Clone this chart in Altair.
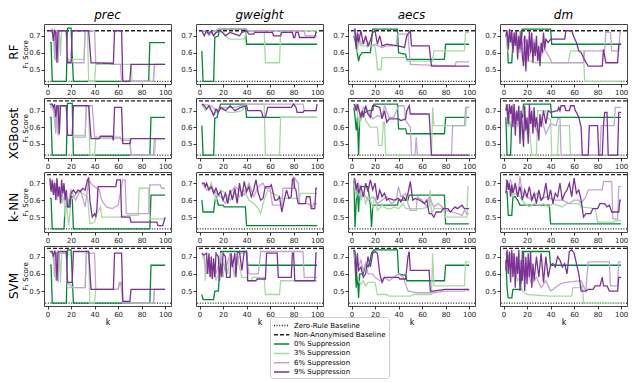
import altair as alt
import pandas as pd

ROWS = ["RF", "XGBoost", "k-NN", "SVM"]
COLS = ["prec", "gweight", "aecs", "dm"]
SERIES = ["Zero-Rule Baseline", "Non-Anonymised Baseline", "0% Suppression",
          "3% Suppression", "6% Suppression", "9% Suppression"]
COLORS = ["#222222", "#222222", "#008837", "#a6dba0", "#c2a5cf", "#7b3294"]
ZERO_RULE = [0.43, 0.43, 0.43, 0.43]
NON_ANON = [0.73, 0.76, 0.75, 0.748]
Y_DOMAINS = [[0.414, 0.77], [0.413, 0.777], [0.412, 0.766], [0.413, 0.762]]
X_TICKS = [0, 20, 40, 60, 80, 100]
Y_TICKS = [0.5, 0.6, 0.7]

# ---------------- RF ----------------
RF_PREC_0 = [(2,.66),(3,.66),(4,.43),(16,.43),(17,.745),(20,.745),(22,.43),(86,.43),(87,.66),(100,.66)]
RF_PREC_3 = [(2,.73),(4,.74),(5,.66),(6,.73),(7,.55),(8,.73),(10,.73),(11,.58),(12,.73),(16,.73),(17,.57),(19,.55),(21,.56),(31,.56),(32,.73),(34,.73),(35,.43),(40,.43),(41,.53),(71,.53),(72,.43),(90,.43),(91,.53),(100,.53)]
RF_PREC_6 = [(2,.73),(4,.72),(5,.73),(6,.56),(7,.73),(8,.73),(9,.54),(10,.73),(16,.73),(17,.55),(20,.54),(21,.55),(22,.54),(31,.54),(32,.73),(40,.73),(41,.54),(55,.54),(56,.53),(62,.53),(63,.43),(90,.43),(91,.53),(100,.53)]
RF_PREC_9 = [(2,.73),(4,.73),(5,.67),(6,.73),(7,.72),(8,.54),(9,.73),(16,.73),(17,.54),(20,.54),(21,.73),(35,.73),(37,.54),(56,.535),(57,.73),(63,.73),(64,.43),(70,.43),(71,.53),(100,.53)]

RF_GW_0 = [(2,.61),(3,.43),(12,.43),(13,.69),(16,.70),(17,.74),(39,.74),(40,.65),(100,.65)]
RF_GW_3 = [(2,.72),(5,.73),(8,.70),(12,.73),(20,.72),(25,.68),(38,.68),(40,.73),(55,.73),(56,.54),(68,.54),(69,.73),(100,.73)]
RF_GW_6 = [(2,.73),(10,.72),(12,.70),(15,.74),(40,.74),(41,.73),(89,.73),(90,.70),(100,.70)]
RF_GW_9 = [(2,.73),(4,.70),(6,.73),(8,.71),(10,.73),(12,.70),(14,.72),(18,.73),(22,.70),(26,.72),(30,.71),(34,.70),(36,.72),(40,.73),(42,.71),(46,.71),(47,.72),(62,.72),(63,.70),(69,.70),(70,.72),(79,.72),(80,.69),(81,.69),(82,.72),(84,.72),(85,.69),(98,.69),(99,.72),(100,.72)]

RF_AE_0 = [(2,.70),(4,.64),(6,.55),(7,.58),(9,.60),(16,.60),(17,.66),(18,.74),(39,.74),(40,.60),(46,.59),(47,.56),(79,.56),(80,.65),(100,.65)]
RF_AE_3 = [(2,.72),(4,.70),(5,.60),(6,.66),(8,.64),(20,.64),(21,.58),(22,.50),(25,.50),(26,.57),(46,.57),(47,.55),(69,.55),(70,.61),(96,.61),(97,.72),(100,.72)]
RF_AE_6 = [(2,.73),(4,.66),(6,.71),(8,.65),(12,.68),(16,.64),(20,.65),(26,.63),(30,.64),(38,.64),(39,.71),(48,.71),(50,.53),(70,.525),(88,.52),(89,.545),(100,.545)]
RF_AE_9 = [(2,.74),(3,.74),(4,.62),(5,.72),(6,.66),(8,.73),(10,.65),(12,.70),(14,.64),(16,.67),(18,.72),(20,.73),(22,.65),(24,.70),(26,.64),(30,.65),(40,.64),(45,.63),(47,.70),(50,.73),(51,.64),(66,.64),(68,.52),(100,.52)]

RF_DM_0 = [(2,.70),(3,.68),(4,.54),(7,.54),(8,.66),(15,.66),(16,.74),(40,.74),(41,.65),(100,.65)]
RF_DM_3 = [(2,.73),(4,.60),(6,.72),(8,.60),(10,.70),(12,.62),(14,.73),(16,.60),(18,.55),(24,.55),(25,.54),(55,.54),(57,.61),(68,.61),(69,.43),(100,.43)]
RF_DM_6 = [(2,.73),(4,.68),(6,.73),(8,.62),(10,.72),(14,.60),(18,.70),(22,.58),(26,.68),(30,.56),(35,.62),(40,.56),(41,.54),(68,.54),(69,.61),(86,.61),(87,.72),(91,.72),(92,.61),(98,.61),(99,.72),(100,.72)]
RF_DM_9 = [(2,.70),(3,.73),(4,.62),(5,.74),(6,.66),(7,.73),(8,.60),(9,.72),(10,.64),(11,.73),(12,.56),(13,.70),(14,.62),(15,.73),(16,.58),(17,.52),(18,.70),(19,.49),(20,.68),(21,.55),(22,.73),(23,.60),(24,.72),(25,.54),(26,.66),(27,.58),(28,.70),(29,.55),(30,.64),(31,.52),(32,.66),(33,.60),(34,.72),(35,.62),(36,.68),(38,.66),(40,.68),(52,.68),(53,.73),(58,.73),(60,.69),(62,.66),(64,.61),(66,.60),(68,.57),(72,.52),(84,.52),(85,.62),(86,.58),(87,.54),(97,.54),(98,.65),(100,.65)]

# ---------------- XGBoost ----------------
XG_PREC_0 = [(2,.66),(3,.66),(4,.43),(16,.43),(17,.745),(21,.745),(22,.43),(87,.43),(88,.66),(100,.66)]
XG_PREC_3 = [(2,.73),(5,.70),(6,.73),(7,.58),(8,.73),(10,.55),(11,.73),(16,.73),(17,.55),(21,.55),(32,.55),(33,.73),(35,.73),(36,.43),(40,.43),(41,.53),(70,.53),(71,.43),(91,.43),(92,.53),(100,.53)]
XG_PREC_6 = [(2,.74),(5,.72),(7,.56),(8,.73),(9,.55),(10,.73),(16,.73),(17,.55),(21,.55),(22,.54),(32,.54),(33,.73),(38,.73),(40,.54),(62,.54),(63,.52),(70,.52),(71,.43),(90,.43),(91,.53),(100,.53)]
XG_PREC_9 = [(2,.74),(4,.74),(5,.72),(6,.74),(7,.66),(8,.73),(9,.73),(10,.56),(11,.73),(16,.73),(17,.55),(21,.55),(22,.73),(35,.73),(37,.53),(44,.53),(45,.545),(55,.545),(56,.52),(57,.72),(63,.72),(64,.50),(70,.50),(71,.53),(100,.53)]

XG_GW_0 = [(2,.61),(3,.43),(12,.43),(13,.655),(15,.66),(16,.70),(18,.74),(39,.74),(40,.66),(100,.66)]
XG_GW_3 = [(2,.74),(5,.70),(8,.73),(12,.68),(16,.70),(20,.72),(24,.69),(30,.69),(36,.70),(40,.74),(55,.74),(56,.43),(68,.43),(69,.66),(100,.66)]
XG_GW_6 = [(2,.74),(10,.73),(14,.70),(18,.72),(30,.72),(40,.74),(88,.74),(89,.70),(100,.70)]
XG_GW_9 = [(2,.74),(4,.73),(6,.71),(8,.73),(10,.70),(12,.67),(14,.71),(16,.69),(18,.72),(22,.70),(26,.73),(30,.70),(35,.72),(40,.73),(41,.70),(52,.70),(53,.69),(54,.66),(56,.66),(58,.72),(78,.72),(79,.73),(80,.74),(82,.72),(83,.69),(88,.69),(89,.70),(99,.70),(100,.74)]

XG_AE_0 = [(2,.72),(3,.66),(4,.58),(5,.66),(6,.43),(7,.66),(10,.68),(14,.70),(18,.70),(19,.74),(39,.74),(40,.59),(46,.59),(47,.56),(79,.56),(80,.66),(100,.66)]
XG_AE_3 = [(2,.72),(4,.74),(5,.70),(6,.60),(7,.68),(10,.70),(12,.64),(16,.60),(22,.60),(23,.49),(26,.49),(27,.63),(28,.63),(29,.43),(68,.43),(69,.72),(70,.61),(97,.61),(98,.72),(100,.72)]
XG_AE_6 = [(2,.74),(4,.70),(6,.73),(8,.64),(10,.72),(14,.70),(18,.65),(22,.67),(26,.66),(28,.73),(32,.66),(36,.66),(40,.73),(44,.73),(45,.72),(46,.64),(50,.60),(51,.43),(54,.43),(55,.54),(56,.43),(85,.43),(86,.61),(96,.61),(97,.72),(100,.72)]
XG_AE_9 = [(2,.74),(3,.73),(4,.70),(5,.74),(6,.71),(8,.66),(9,.70),(10,.66),(12,.73),(14,.68),(16,.66),(17,.70),(18,.73),(20,.73),(24,.72),(26,.65),(28,.70),(30,.63),(32,.65),(40,.65),(42,.64),(46,.65),(47,.70),(49,.73),(50,.68),(66,.68),(68,.43),(100,.43)]

XG_DM_0 = [(2,.66),(3,.43),(6,.43),(7,.66),(16,.66),(17,.74),(40,.74),(41,.66),(100,.66)]
XG_DM_3 = [(2,.74),(4,.60),(6,.72),(8,.74),(10,.66),(12,.60),(14,.70),(16,.52),(18,.60),(20,.56),(22,.60),(24,.43),(28,.43),(29,.70),(36,.70),(37,.65),(40,.65),(41,.43),(46,.43),(47,.61),(56,.61),(57,.43),(100,.43)]
XG_DM_6 = [(2,.72),(6,.60),(8,.73),(12,.62),(16,.70),(20,.60),(24,.66),(28,.58),(32,.66),(36,.56),(40,.62),(45,.61),(46,.65),(48,.65),(49,.43),(82,.43),(83,.61),(94,.61),(95,.72),(100,.72)]
XG_DM_9 = [(2,.70),(3,.74),(4,.62),(5,.74),(6,.68),(7,.73),(8,.60),(9,.74),(10,.55),(11,.70),(12,.64),(13,.73),(14,.50),(15,.70),(16,.60),(17,.48),(18,.73),(19,.58),(20,.66),(21,.50),(22,.74),(23,.62),(24,.70),(25,.56),(26,.72),(27,.60),(28,.66),(30,.52),(31,.68),(32,.60),(34,.70),(36,.62),(38,.70),(40,.69),(46,.70),(47,.72),(48,.70),(49,.73),(52,.73),(53,.70),(56,.70),(57,.73),(60,.73),(61,.70),(62,.69),(64,.66),(66,.60),(67,.43),(72,.43),(73,.61),(80,.61),(81,.43),(84,.43),(85,.61),(86,.69),(88,.69),(89,.43),(97,.43),(98,.69),(100,.69)]

# ---------------- k-NN ----------------
KN_PREC_0 = [(2,.61),(3,.61),(4,.43),(14,.43),(15,.56),(18,.56),(19,.62),(21,.62),(22,.43),(87,.43),(88,.63),(100,.63)]
KN_PREC_3 = [(2,.70),(4,.65),(6,.70),(8,.60),(10,.68),(12,.58),(14,.62),(15,.50),(16,.58),(18,.45),(20,.60),(22,.62),(26,.65),(30,.64),(34,.62),(36,.46),(40,.47),(42,.52),(45,.56),(46,.50),(60,.50),(70,.51),(77,.51),(78,.67),(86,.67),(87,.49),(100,.49)]
KN_PREC_6 = [(2,.72),(4,.66),(6,.71),(8,.62),(10,.68),(12,.60),(14,.69),(16,.57),(18,.60),(20,.66),(24,.60),(28,.66),(32,.56),(35,.72),(38,.69),(44,.66),(46,.60),(50,.56),(55,.55),(60,.57),(64,.72),(66,.72),(67,.52),(70,.52),(86,.52),(87,.69),(96,.69),(97,.67),(100,.67)]
KN_PREC_9 = [(2,.73),(3,.65),(4,.72),(5,.63),(6,.70),(7,.60),(8,.73),(9,.62),(10,.68),(11,.58),(12,.72),(13,.64),(14,.70),(15,.60),(16,.66),(17,.56),(19,.56),(20,.64),(22,.66),(24,.64),(26,.66),(28,.65),(30,.67),(32,.66),(34,.72),(35,.73),(36,.60),(38,.50),(40,.52),(41,.50),(42,.55),(43,.68),(58,.68),(59,.72),(62,.72),(63,.50),(70,.50),(71,.47),(93,.47),(94,.45),(98,.45),(100,.50)]

KN_GW_0 = [(2,.60),(3,.53),(12,.53),(13,.59),(14,.62),(15,.60),(16,.57),(20,.57),(21,.56),(39,.56),(40,.45),(100,.45)]
KN_GW_3 = [(2,.70),(6,.69),(8,.66),(10,.70),(14,.60),(18,.66),(22,.64),(26,.60),(30,.64),(34,.62),(38,.66),(42,.60),(46,.58),(50,.55),(52,.52),(54,.58),(58,.66),(62,.64),(68,.62),(69,.61),(85,.61),(86,.64),(100,.64)]
KN_GW_6 = [(2,.70),(6,.66),(10,.68),(14,.64),(18,.62),(22,.58),(26,.64),(30,.68),(34,.66),(38,.63),(42,.70),(46,.62),(50,.68),(54,.70),(56,.67),(60,.67),(62,.57),(70,.57),(71,.67),(80,.67),(81,.73),(84,.70),(85,.58),(92,.58),(96,.56),(97,.58),(100,.58)]
KN_GW_9 = [(2,.70),(4,.70),(5,.68),(6,.70),(8,.66),(10,.68),(12,.64),(14,.67),(16,.63),(18,.65),(20,.60),(22,.64),(24,.58),(26,.66),(28,.60),(30,.67),(32,.58),(34,.70),(36,.62),(38,.71),(40,.65),(42,.68),(44,.62),(46,.66),(48,.72),(50,.64),(52,.60),(54,.61),(56,.68),(60,.68),(61,.69),(62,.66),(64,.60),(66,.60),(68,.62),(70,.53),(72,.60),(74,.66),(76,.61),(78,.62),(79,.72),(80,.73),(81,.67),(82,.66),(83,.61),(84,.58),(90,.58),(91,.62),(94,.62),(95,.55),(98,.55),(99,.67),(100,.67)]

KN_AE_0 = [(2,.72),(3,.44),(4,.60),(5,.66),(6,.53),(7,.68),(14,.68),(15,.62),(16,.57),(17,.44),(18,.56),(19,.57),(39,.57),(40,.60),(48,.60),(49,.63),(79,.63),(80,.46),(100,.46)]
KN_AE_3 = [(2,.70),(4,.62),(6,.66),(8,.60),(10,.64),(12,.58),(14,.62),(16,.60),(18,.56),(20,.62),(22,.54),(26,.57),(30,.55),(34,.55),(36,.56),(40,.55),(44,.58),(46,.55),(60,.55),(66,.56),(67,.66),(68,.52),(70,.55),(78,.55),(80,.50),(98,.50),(99,.68),(100,.68)]
KN_AE_6 = [(2,.72),(4,.66),(6,.70),(8,.62),(10,.64),(14,.60),(18,.62),(22,.58),(26,.60),(30,.62),(34,.58),(38,.60),(40,.68),(42,.62),(46,.64),(48,.58),(50,.54),(55,.54),(56,.62),(60,.60),(62,.58),(64,.56),(66,.62),(70,.56),(74,.58),(80,.54),(86,.53),(94,.51),(96,.54),(98,.52),(100,.52)]
KN_AE_9 = [(2,.73),(3,.72),(4,.66),(5,.70),(6,.64),(8,.68),(10,.62),(12,.70),(14,.65),(16,.72),(18,.66),(20,.70),(22,.60),(24,.66),(26,.62),(28,.64),(30,.60),(32,.61),(36,.60),(40,.61),(42,.59),(44,.62),(46,.60),(48,.64),(50,.71),(52,.60),(54,.61),(58,.60),(62,.58),(64,.60),(66,.52),(68,.52),(70,.50),(72,.53),(76,.53),(78,.55),(82,.55),(84,.53),(88,.56),(90,.55),(94,.57),(96,.55),(100,.55)]

KN_DM_0 = [(2,.65),(3,.65),(4,.51),(7,.51),(8,.62),(10,.62),(12,.60),(14,.57),(39,.57),(40,.46),(100,.46)]
KN_DM_3 = [(2,.72),(4,.70),(6,.66),(8,.62),(10,.64),(14,.62),(18,.58),(22,.56),(26,.58),(30,.57),(34,.58),(38,.56),(42,.58),(46,.57),(50,.56),(54,.58),(64,.58),(66,.56),(78,.55),(80,.47),(94,.47),(95,.48),(100,.48)]
KN_DM_6 = [(2,.72),(4,.70),(6,.72),(8,.66),(10,.68),(12,.62),(14,.74),(16,.64),(20,.62),(24,.60),(28,.64),(32,.60),(36,.62),(40,.61),(44,.60),(50,.60),(56,.58),(60,.60),(64,.60),(66,.58),(70,.62),(72,.66),(84,.66),(85,.71),(92,.71),(93,.49),(97,.49),(98,.68),(100,.68)]
KN_DM_9 = [(2,.64),(3,.72),(4,.66),(5,.70),(6,.62),(7,.69),(8,.64),(10,.70),(12,.62),(14,.68),(16,.60),(18,.66),(20,.62),(22,.68),(24,.60),(26,.64),(28,.58),(30,.66),(32,.60),(34,.62),(36,.70),(38,.60),(40,.66),(42,.58),(44,.64),(46,.62),(48,.70),(50,.60),(52,.64),(54,.66),(56,.70),(58,.62),(60,.73),(62,.64),(64,.66),(66,.60),(68,.50),(70,.52),(74,.52),(76,.55),(80,.55),(82,.58),(86,.58),(88,.56),(90,.57),(92,.53),(98,.53),(99,.60),(100,.60)]

# ---------------- SVM ----------------
SV_PREC_0 = [(2,.65),(3,.65),(4,.43),(16,.43),(17,.74),(20,.74),(22,.43),(87,.43),(88,.65),(100,.65)]
SV_PREC_3 = [(2,.73),(4,.72),(5,.68),(6,.73),(7,.56),(8,.72),(10,.72),(11,.55),(12,.72),(16,.72),(17,.52),(32,.52),(33,.73),(35,.73),(36,.43),(40,.43),(41,.51),(60,.51),(62,.55),(64,.44),(70,.44),(71,.43),(90,.43),(91,.51),(100,.51)]
SV_PREC_6 = [(2,.73),(5,.72),(6,.58),(7,.73),(8,.72),(9,.55),(10,.72),(16,.72),(17,.55),(20,.53),(22,.52),(32,.52),(33,.72),(40,.72),(41,.51),(60,.51),(61,.55),(63,.55),(64,.43),(90,.43),(91,.51),(100,.51)]
SV_PREC_9 = [(2,.73),(4,.73),(5,.70),(6,.73),(7,.72),(8,.56),(9,.73),(16,.73),(17,.55),(21,.55),(22,.73),(35,.73),(37,.51),(56,.51),(57,.72),(63,.72),(64,.44),(70,.44),(71,.51),(100,.51)]

SV_GW_0 = [(2,.48),(3,.45),(12,.45),(13,.50),(16,.50),(17,.60),(18,.73),(40,.73),(41,.65),(100,.65)]
SV_GW_3 = [(2,.72),(4,.68),(5,.56),(6,.70),(8,.64),(10,.58),(12,.66),(14,.56),(16,.60),(18,.72),(20,.58),(22,.68),(24,.60),(26,.70),(30,.58),(32,.70),(36,.58),(40,.58),(41,.56),(44,.56),(45,.58),(55,.58),(56,.48),(68,.48),(69,.56),(100,.56)]
SV_GW_6 = [(2,.72),(4,.70),(6,.60),(8,.70),(10,.58),(12,.66),(14,.60),(18,.70),(22,.62),(26,.72),(30,.60),(34,.72),(40,.72),(42,.60),(50,.60),(52,.73),(88,.73),(89,.58),(100,.58)]
SV_GW_9 = [(2,.72),(4,.71),(6,.72),(7,.60),(8,.72),(9,.58),(10,.70),(11,.57),(12,.69),(13,.58),(14,.72),(16,.70),(17,.56),(18,.66),(19,.58),(20,.72),(22,.70),(23,.58),(26,.58),(27,.72),(28,.64),(30,.72),(31,.58),(32,.72),(34,.73),(36,.62),(38,.73),(40,.73),(41,.56),(48,.56),(49,.57),(56,.57),(57,.72),(66,.72),(67,.58),(78,.58),(79,.72),(80,.72),(81,.56),(98,.56),(99,.72),(100,.72)]

SV_AE_0 = [(2,.74),(3,.65),(4,.52),(5,.60),(6,.46),(7,.60),(10,.60),(12,.66),(14,.64),(16,.68),(17,.72),(19,.74),(39,.74),(40,.60),(46,.59),(47,.56),(79,.56),(80,.65),(100,.65)]
SV_AE_3 = [(2,.72),(4,.64),(6,.56),(8,.54),(10,.56),(12,.53),(14,.55),(20,.55),(22,.48),(30,.48),(32,.47),(50,.47),(52,.48),(68,.48),(69,.72),(70,.53),(96,.53),(97,.67),(100,.67)]
SV_AE_6 = [(2,.74),(4,.70),(6,.64),(8,.68),(10,.62),(12,.66),(14,.60),(18,.60),(20,.58),(24,.56),(28,.58),(32,.56),(36,.58),(40,.60),(44,.58),(48,.50),(56,.49),(70,.49),(80,.50),(96,.50),(97,.51),(100,.50)]
SV_AE_9 = [(2,.74),(3,.73),(4,.58),(5,.72),(6,.62),(8,.64),(10,.58),(12,.60),(14,.70),(16,.64),(18,.72),(20,.73),(22,.72),(24,.60),(26,.55),(28,.58),(40,.58),(41,.57),(46,.57),(48,.70),(49,.73),(50,.62),(66,.62),(67,.50),(70,.50),(80,.51),(90,.51),(100,.51)]

SV_DM_0 = [(2,.68),(3,.52),(4,.46),(7,.46),(8,.51),(15,.51),(16,.73),(39,.73),(40,.65),(100,.65)]
SV_DM_3 = [(2,.72),(4,.66),(6,.72),(8,.60),(10,.62),(12,.56),(14,.58),(16,.50),(20,.48),(40,.47),(58,.47),(59,.52),(66,.52),(67,.54),(68,.43),(100,.43)]
SV_DM_6 = [(2,.73),(4,.70),(6,.64),(8,.72),(10,.60),(12,.70),(14,.56),(16,.66),(18,.58),(20,.62),(24,.54),(28,.58),(32,.52),(36,.56),(40,.50),(44,.52),(48,.54),(52,.55),(66,.56),(70,.50),(72,.67),(90,.67),(91,.53),(97,.53),(98,.67),(100,.67)]
SV_DM_9 = [(2,.62),(3,.74),(4,.60),(5,.73),(6,.55),(7,.74),(8,.58),(9,.72),(10,.52),(11,.70),(12,.60),(13,.74),(14,.50),(15,.68),(16,.56),(17,.73),(18,.50),(19,.70),(20,.54),(21,.72),(22,.58),(23,.73),(24,.52),(25,.66),(26,.56),(28,.70),(30,.58),(32,.72),(34,.55),(36,.70),(38,.58),(40,.65),(42,.66),(44,.64),(46,.70),(48,.68),(50,.64),(52,.66),(54,.60),(56,.73),(58,.74),(60,.72),(62,.66),(64,.60),(66,.50),(70,.50),(72,.51),(76,.51),(78,.53),(82,.53),(84,.58),(85,.53),(88,.53),(90,.50),(97,.50),(98,.58),(100,.58)]

PANELS = {
    ("RF", "prec"): [RF_PREC_0, RF_PREC_3, RF_PREC_6, RF_PREC_9],
    ("RF", "gweight"): [RF_GW_0, RF_GW_3, RF_GW_6, RF_GW_9],
    ("RF", "aecs"): [RF_AE_0, RF_AE_3, RF_AE_6, RF_AE_9],
    ("RF", "dm"): [RF_DM_0, RF_DM_3, RF_DM_6, RF_DM_9],
    ("XGBoost", "prec"): [XG_PREC_0, XG_PREC_3, XG_PREC_6, XG_PREC_9],
    ("XGBoost", "gweight"): [XG_GW_0, XG_GW_3, XG_GW_6, XG_GW_9],
    ("XGBoost", "aecs"): [XG_AE_0, XG_AE_3, XG_AE_6, XG_AE_9],
    ("XGBoost", "dm"): [XG_DM_0, XG_DM_3, XG_DM_6, XG_DM_9],
    ("k-NN", "prec"): [KN_PREC_0, KN_PREC_3, KN_PREC_6, KN_PREC_9],
    ("k-NN", "gweight"): [KN_GW_0, KN_GW_3, KN_GW_6, KN_GW_9],
    ("k-NN", "aecs"): [KN_AE_0, KN_AE_3, KN_AE_6, KN_AE_9],
    ("k-NN", "dm"): [KN_DM_0, KN_DM_3, KN_DM_6, KN_DM_9],
    ("SVM", "prec"): [SV_PREC_0, SV_PREC_3, SV_PREC_6, SV_PREC_9],
    ("SVM", "gweight"): [SV_GW_0, SV_GW_3, SV_GW_6, SV_GW_9],
    ("SVM", "aecs"): [SV_AE_0, SV_AE_3, SV_AE_6, SV_AE_9],
    ("SVM", "dm"): [SV_DM_0, SV_DM_3, SV_DM_6, SV_DM_9],
}

PANEL_W = 127
PANEL_H = 60
FONT = "DejaVu Sans"

color_scale = alt.Scale(domain=SERIES, range=COLORS)
dash_scale = alt.Scale(domain=SERIES, range=[[1, 1.6], [4, 2], [1, 0], [1, 0], [1, 0], [1, 0]])


def make_panel(ri, ci):
    row, col = ROWS[ri], COLS[ci]
    recs = []
    for si, pts in enumerate(PANELS[(row, col)]):
        for k, v in pts:
            recs.append({"k": k, "v": v, "series": SERIES[si + 2]})
    df = pd.DataFrame(recs)
    bdf = pd.DataFrame([{"v": ZERO_RULE[ri], "series": SERIES[0]},
                        {"v": NON_ANON[ri], "series": SERIES[1]}])
    y_axis = alt.Axis(values=Y_TICKS, format=".1f", grid=False,
                      title="F\u2081 Score" if ci == 0 else None,
                      titleFontSize=7, titleFontWeight="normal", titlePadding=0)
    x_axis = alt.Axis(values=X_TICKS, grid=False,
                      title="k" if ri == 3 else None,
                      titleFontSize=8, titleFontWeight="normal", titlePadding=1)
    yscale = alt.Scale(domain=Y_DOMAINS[ri], nice=False, zero=False)
    xscale = alt.Scale(domain=[-3, 105], nice=False, zero=False)
    rules = alt.Chart(bdf).mark_rule(strokeWidth=1.3).encode(
        y=alt.Y("v:Q", scale=yscale, axis=y_axis),
        color=alt.Color("series:N", scale=color_scale, title=None),
        strokeDash=alt.StrokeDash("series:N", scale=dash_scale, title=None),
    )
    lines = alt.Chart(df).mark_line(strokeWidth=1.3, clip=True).encode(
        x=alt.X("k:Q", scale=xscale, axis=x_axis),
        y=alt.Y("v:Q", scale=yscale, axis=y_axis),
        color=alt.Color("series:N", scale=color_scale, title=None),
        strokeDash=alt.StrokeDash("series:N", scale=dash_scale, title=None),
        order=alt.Order("k:Q"),
    )
    props = dict(width=PANEL_W, height=PANEL_H)
    if ri == 0:
        props["title"] = alt.TitleParams(col, fontStyle="italic", fontSize=12,
                                         fontWeight="normal", offset=2, font=FONT)
    return alt.layer(rules, lines).properties(**props)


rows = []
for ri, rname in enumerate(ROWS):
    panels = [make_panel(ri, ci) for ci in range(4)]
    rows.append(alt.hconcat(*panels, spacing=25, bounds="flush").properties(
        title=alt.TitleParams(rname, orient="left", fontSize=12, fontWeight="normal",
                              font=FONT, offset=0, anchor="middle")))

chart = alt.vconcat(*rows, spacing=1).configure(
    font=FONT, padding=0
).configure_view(
    stroke="#444444", strokeWidth=1
).configure_axis(
    labelFontSize=7, labelFont=FONT, titleFont=FONT, labelColor="#222222",
    tickColor="#333333", tickSize=3, labelPadding=1, domain=False,
).configure_legend(
    orient="none", legendX=226, legendY=293, symbolType="M-1,0H2.4",
    symbolSize=81, symbolStrokeWidth=1.5, labelFontSize=7, labelFont=FONT,
    labelOffset=10, rowPadding=0.3, padding=3, strokeColor="#cccccc", fillColor="white",
    cornerRadius=3, labelLimit=200, titlePadding=0,
)

chart.save("out.html", embed_options={"renderer": "svg", "actions": False})
